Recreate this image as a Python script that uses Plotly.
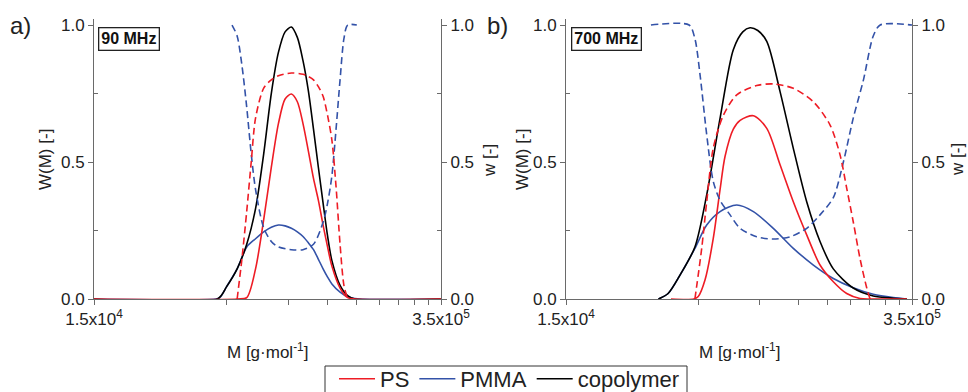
import numpy as np
import plotly.graph_objects as go

# ---------------- data ----------------
# panel a) 90 MHz  -- W(M) (left axis) and w (right axis), M in g/mol
ps_a_M = [1.5e4, 5.5e4, 6.0e4, 6.5e4, 7.0e4, 7.5e4, 8.0e4, 8.5e4, 9.0e4, 9.5e4, 1.0e5, 1.05e5,
          1.1e5, 1.15e5, 1.2e5, 1.25e5, 1.3e5, 1.4e5, 1.5e5, 1.6e5, 3.5e5]
ps_a_W = [0, 0, 0.005, 0.11, 0.29, 0.48, 0.64, 0.73, 0.748, 0.72, 0.64, 0.54,
          0.44, 0.36, 0.27, 0.19, 0.12, 0.04, 0.005, 0, 0]

pmma_a_M = [1.5e4, 4.5e4, 4.7e4, 5.0e4, 5.5e4, 6.0e4, 6.5e4, 7.0e4, 7.5e4, 8.0e4, 8.5e4, 9.0e4,
            9.5e4, 1.0e5, 1.05e5, 1.1e5, 1.15e5, 1.2e5, 1.25e5, 1.3e5, 1.4e5, 1.5e5, 1.6e5, 1.7e5, 3.5e5]
pmma_a_W = [0, 0, 0.005, 0.045, 0.11, 0.19, 0.22, 0.245, 0.262, 0.27, 0.267, 0.258,
            0.245, 0.228, 0.205, 0.18, 0.145, 0.11, 0.08, 0.055, 0.025, 0.008, 0.002, 0, 0]

cop_a_M = [1.5e4, 4.6e4, 5.0e4, 5.5e4, 6.0e4, 6.5e4, 7.0e4, 7.5e4, 8.0e4, 8.5e4, 9.0e4, 9.5e4,
           1.0e5, 1.05e5, 1.1e5, 1.15e5, 1.2e5, 1.25e5, 1.3e5, 1.4e5, 1.5e5, 1.6e5, 3.5e5]
cop_a_W = [0, 0, 0.045, 0.11, 0.20, 0.33, 0.53, 0.75, 0.90, 0.975, 0.993, 0.955,
           0.87, 0.76, 0.62, 0.48, 0.35, 0.23, 0.14, 0.05, 0.012, 0, 0]

wps_a_M = [5.5e4, 5.75e4, 6.0e4, 6.25e4, 6.5e4, 7.0e4, 7.5e4, 8.0e4, 9.0e4, 1.0e5, 1.05e5, 1.1e5,
           1.15e5, 1.2e5, 1.25e5, 1.3e5, 1.35e5, 1.4e5, 1.45e5, 1.5e5]
wps_a = [0, 0.15, 0.32, 0.50, 0.66, 0.77, 0.80, 0.815, 0.825, 0.82, 0.812, 0.80,
         0.775, 0.74, 0.67, 0.58, 0.41, 0.20, 0.05, 0]

wpmma_a_M = [5.25e4, 5.5e4, 5.75e4, 6.0e4, 6.25e4, 6.5e4, 7.0e4, 7.5e4, 8.0e4, 9.0e4, 1.0e5, 1.1e5,
             1.2e5, 1.25e5, 1.3e5, 1.35e5, 1.4e5, 1.45e5, 1.5e5, 1.63e5]
wpmma_a = [1.0, 0.96, 0.85, 0.70, 0.53, 0.40, 0.26, 0.21, 0.19, 0.18, 0.18, 0.20,
           0.28, 0.35, 0.45, 0.62, 0.80, 0.95, 1.0, 1.0]

# panel b) 700 MHz
ps_b_M = [3.9e4, 4.8e4, 5.0e4, 5.32e4, 5.73e4, 6.1e4, 6.38e4, 6.88e4, 7.32e4, 8.26e4, 9.33e4, 1.053e5,
          1.188e5, 1.342e5, 1.515e5, 1.71e5, 1.932e5, 2.18e5, 2.4e5, 3.34e5]
ps_b_W = [0, 0, 0.009, 0.07, 0.22, 0.40, 0.52, 0.62, 0.652, 0.669, 0.623, 0.49,
          0.355, 0.234, 0.124, 0.063, 0.02, 0.002, 0, 0]

pmma_b_M = [3.48e4, 3.8e4, 4.24e4, 4.85e4, 5.4e4, 6.1e4, 7.1e4, 8.26e4, 9.9e4, 1.188e5, 1.426e5,
            1.71e5, 2.05e5, 2.46e5, 2.95e5, 3.34e5]
pmma_b_W = [0, 0.02, 0.088, 0.185, 0.27, 0.319, 0.343, 0.319, 0.258, 0.185, 0.124,
            0.075, 0.041, 0.017, 0.005, 0]

cop_b_M = [3.48e4, 3.8e4, 4.24e4, 4.85e4, 5.4e4, 6.1e4, 6.88e4, 7.5e4, 8.01e4, 8.6e4, 9.33e4, 1.053e5,
           1.188e5, 1.342e5, 1.515e5, 1.71e5, 2.05e5, 2.46e5, 2.95e5, 3.34e5]
cop_b_W = [0, 0.02, 0.088, 0.19, 0.38, 0.66, 0.91, 0.975, 0.99, 0.98, 0.94, 0.757,
           0.55, 0.355, 0.21, 0.11, 0.04, 0.011, 0.003, 0]

wps_b_M = [4.85e4, 5.16e4, 5.4e4, 5.73e4, 6.28e4, 7.1e4, 8.51e4, 9.9e4, 1.188e5, 1.426e5, 1.66e5,
           1.818e5, 1.932e5, 2.05e5, 2.18e5, 2.32e5, 2.39e5]
wps_b = [0, 0.185, 0.355, 0.55, 0.67, 0.745, 0.779, 0.785, 0.769, 0.72, 0.635,
         0.526, 0.404, 0.282, 0.148, 0.039, 0]

wpmma_b_M = [3.25e4, 4.6e4, 4.85e4, 5.08e4, 5.4e4, 5.73e4, 6.1e4, 6.68e4, 7.32e4, 8.51e4, 9.9e4,
             1.153e5, 1.342e5, 1.515e5, 1.71e5, 1.874e5, 2.05e5, 2.25e5, 2.46e5, 2.62e5, 3.5e5]
wpmma_b = [1.0, 1.0, 0.95, 0.82, 0.60, 0.43, 0.36, 0.307, 0.258, 0.227, 0.219,
           0.227, 0.258, 0.307, 0.37, 0.50, 0.66, 0.80, 0.96, 1.0, 1.0]

# axis ticks
x_range = [1.5e4, 3.5e5]
x_major = [1.5e4, 3.5e5]
x_major_text = ["1.5x10<sup>4</sup>", "3.5x10<sup>5</sup>"]
x_minor = [5.0e4, 8.75e4, 1.25e5, 1.625e5, 2.0e5, 2.375e5, 2.75e5, 3.125e5]
y_major = [0, 0.5, 1.0]
y_major_text = ["0.0", "0.5", "1.0"]
y_minor = [0.25, 0.75]

panel_labels = ["a)", "b)"]
freq_labels = ["90 MHz", "700 MHz"]
series_names = ["PS", "PMMA", "copolymer"]

# ---------------- styling ----------------
RED = "#ee1c25"
BLUE = "#3352a8"
BLACK = "#000000"
AX = "#6a6a6a"
TXT = "#222222"
FONT = "Arial, Liberation Sans, sans-serif"

fig = go.Figure()


def add(xs, ys, color, dash, xa, ya, name, show, rank):
    fig.add_trace(go.Scatter(
        x=xs, y=ys, mode="lines", name=name, showlegend=show, legendrank=rank,
        line=dict(color=color, width=1.6, dash=dash, shape="spline", smoothing=0.8),
        xaxis=xa, yaxis=ya, hoverinfo="skip"))


DASH = "7px,4px"
# panel a
add(wpmma_a_M, wpmma_a, BLUE, DASH, "x", "y3", "w PMMA", False, 10)
add(wps_a_M, wps_a, RED, DASH, "x", "y3", "w PS", False, 10)
add(pmma_a_M, pmma_a_W, BLUE, "solid", "x", "y", series_names[1], True, 2)
add(cop_a_M, cop_a_W, BLACK, "solid", "x", "y", series_names[2], True, 3)
add(ps_a_M, ps_a_W, RED, "solid", "x", "y", series_names[0], True, 1)
# panel b
add(wpmma_b_M, wpmma_b, BLUE, DASH, "x2", "y4", "w PMMA", False, 10)
add(wps_b_M, wps_b, RED, DASH, "x2", "y4", "w PS", False, 10)
add(pmma_b_M, pmma_b_W, BLUE, "solid", "x2", "y2", series_names[1], False, 2)
add(cop_b_M, cop_b_W, BLACK, "solid", "x2", "y2", series_names[2], False, 3)
add(ps_b_M, ps_b_W, RED, "solid", "x2", "y2", series_names[0], False, 1)

xr = [np.log10(x_range[0]), np.log10(x_range[1])]
xa_dom = [94 / 968, 441 / 968]
xb_dom = [566 / 968, 912 / 968]
y_dom = [93 / 392, 373 / 392]
yr = [0, 1.022]

tickfont = dict(family=FONT, size=17, color=TXT)


def xaxis(dom, anchor):
    return dict(domain=dom, anchor=anchor, type="log", range=xr, showgrid=False, zeroline=False,
                showline=True, linecolor=AX, linewidth=1, ticks="outside", ticklen=5,
                tickcolor=AX, tickvals=x_major, ticktext=x_major_text, tickfont=tickfont,
                minor=dict(tickmode="array", tickvals=x_minor, ticks="outside", ticklen=5,
                           tickcolor=AX, showgrid=False))


def xtop(over, anchor):
    return dict(overlaying=over, anchor=anchor, side="top", type="log", range=xr,
                showgrid=False, zeroline=False, showline=True, linecolor="#444", linewidth=1,
                ticks="inside", ticklen=4, tickcolor=AX, tickvals=x_minor,
                showticklabels=False)


def yaxis(dom, anchor, side="left", over=None):
    d = dict(domain=dom, anchor=anchor, range=yr, showgrid=False, zeroline=False, showline=True,
             linecolor=AX, linewidth=1, ticks="outside", ticklen=5, tickcolor=AX,
             tickvals=y_major, ticktext=y_major_text, tickfont=tickfont, side=side,
             minor=dict(tickmode="array", tickvals=y_minor, ticks="inside", ticklen=4,
                        tickcolor=AX, showgrid=False))
    if over:
        d["overlaying"] = over
        d.pop("domain")
    return d


annotations = []
for lab, xc in zip(panel_labels, [20, 497]):
    annotations.append(dict(text=lab, x=xc / 968, y=(392 - 25) / 392, xref="paper", yref="paper",
                            xanchor="center", yanchor="middle", showarrow=False,
                            font=dict(family=FONT, size=24, color=TXT)))
for lab, xl in zip(freq_labels, [98, 571]):
    annotations.append(dict(text="<b>" + lab + "</b>", x=xl / 968, y=(392 - 27) / 392,
                            xref="paper", yref="paper", xanchor="left", yanchor="top",
                            showarrow=False, bordercolor="#222", borderwidth=1.3, borderpad=2,
                            bgcolor="white", font=dict(family=FONT, size=16, color="#111")))
for xc in [45, 522]:
    annotations.append(dict(text="W(M) [-]", x=xc / 968, y=(392 - 160) / 392, xref="paper",
                            yref="paper", textangle=-90, showarrow=False, xanchor="center",
                            yanchor="middle", font=dict(family=FONT, size=17, color=TXT)))
for xc in [489, 957]:
    annotations.append(dict(text="w [-]", x=xc / 968, y=(392 - 160) / 392, xref="paper",
                            yref="paper", textangle=-90, showarrow=False, xanchor="center",
                            yanchor="middle", font=dict(family=FONT, size=17, color=TXT)))
for xc in [267, 739]:
    annotations.append(dict(text="M [g·mol<sup>-1</sup>]", x=xc / 968, y=(392 - 351) / 392,
                            xref="paper", yref="paper", showarrow=False, xanchor="center",
                            yanchor="middle", font=dict(family=FONT, size=17, color=TXT)))

# frame of the legend (the legend box is cut by the bottom edge in the original)
shapes = [dict(type="rect", xref="paper", yref="paper", x0=325 / 968, x1=687 / 968,
               y0=-0.2, y1=(392 - 366) / 392, line=dict(color="#333", width=1),
               fillcolor="white", layer="above")]

fig.update_layout(
    width=968, height=392,
    margin=dict(l=0, r=0, t=0, b=0, autoexpand=False),
    paper_bgcolor="white", plot_bgcolor="white",
    font=dict(family=FONT, color=TXT),
    xaxis=xaxis(xa_dom, "y"),
    xaxis2=xaxis(xb_dom, "y2"),
    xaxis3=xtop("x", "y"),
    xaxis4=xtop("x2", "y2"),
    yaxis=yaxis(y_dom, "x"),
    yaxis2=yaxis(y_dom, "x2"),
    yaxis3=yaxis(y_dom, "x", side="right", over="y"),
    yaxis4=yaxis(y_dom, "x2", side="right", over="y2"),
    showlegend=True,
    legend=dict(orientation="h", x=334 / 968, xanchor="left", y=(392 - 358) / 392,
                yanchor="top", borderwidth=0, bgcolor="rgba(0,0,0,0)",
                font=dict(family=FONT, size=22, color=TXT), tracegroupgap=0,
                itemwidth=36),
    shapes=shapes,
    annotations=annotations,
)

fig.write_html("out.html", config={"displayModeBar": False},
               post_script="document.body.style.margin='0';document.body.style.overflow='hidden';")
